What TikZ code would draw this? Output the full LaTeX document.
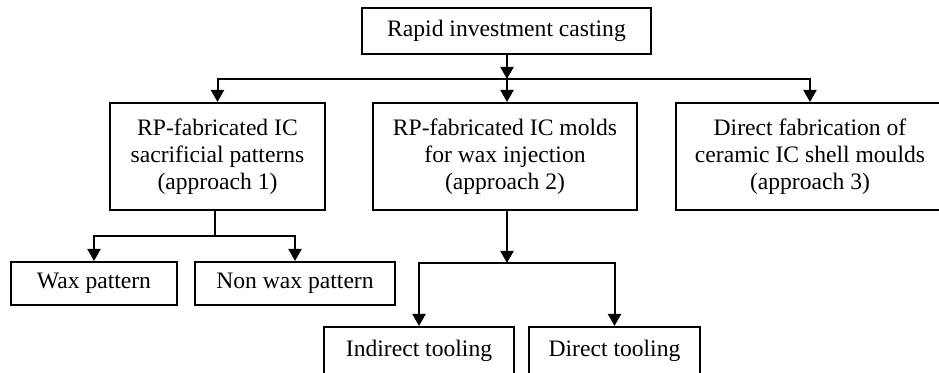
\documentclass[tikz,border=0pt]{standalone}
\usepackage{fontspec}
\setmainfont{Liberation Serif}
\usetikzlibrary{arrows.meta,calc,positioning}

\tikzset{
  box/.style={draw,line width=1pt,inner sep=0pt,align=center,
    font=\fontsize{11.8}{13.5}\selectfont},
  link/.style={line width=1pt,-{Triangle[length=6pt,width=6.5pt]}},
  plain/.style={line width=1pt}
}

\begin{document}
\begin{tikzpicture}[x=0.5pt,y=-0.5pt]

\clip (0,0) rectangle (939,373);
\fill[white] (0,0) rectangle (939,373);

% top level
\node[box,minimum width=144.5pt,minimum height=23pt] (ric) at (506.5,31) {Rapid investment casting};

% three approaches
\node[box,minimum width=107.5pt,minimum height=53.5pt] (app1) at (217.5,156.5)
  {RP-fabricated IC\\sacrificial patterns\\(approach 1)};
\node[box,minimum width=132pt,minimum height=53.5pt] (app2) at (505,156.5)
  {RP-fabricated IC molds\\for wax injection\\(approach 2)};
\node[box,minimum width=134pt,minimum height=53.5pt] (app3) at (810,156.5)
  {Direct fabrication of\\ceramic IC shell moulds\\(approach 3)};

% patterns
\node[box,minimum width=83pt,minimum height=21.5pt] (wax) at (94,283.5) {Wax pattern};
\node[box,minimum width=100pt,minimum height=21.5pt] (nonwax) at (295,283.5) {Non wax pattern};

% tooling
\node[box,minimum width=95pt,minimum height=24pt] (indirect) at (419,351) {Indirect tooling};
\node[box,minimum width=85.5pt,minimum height=24pt] (direct) at (614.5,351) {Direct tooling};

% junctions
\coordinate (j0) at (507,79);
\coordinate (j1) at (215,236);
\coordinate (j2) at (507,263);

\draw[link] (ric.south -| j0) -- (j0);
\draw[link] (j0) -| (app1.north);
\draw[link] (j0) -- (j0 |- app2.north);
\draw[link] (j0) -| (app3.north);

\draw[plain] (app1.south -| j1) -- (j1);
\draw[link] (j1) -| (wax.north);
\draw[link] (j1) -| (nonwax.north);

\draw[link] (app2.south -| j2) -- (j2);
\draw[link] (j2) -| (indirect.north);
\draw[link] (j2) -| (direct.north);

\end{tikzpicture}
\end{document}
